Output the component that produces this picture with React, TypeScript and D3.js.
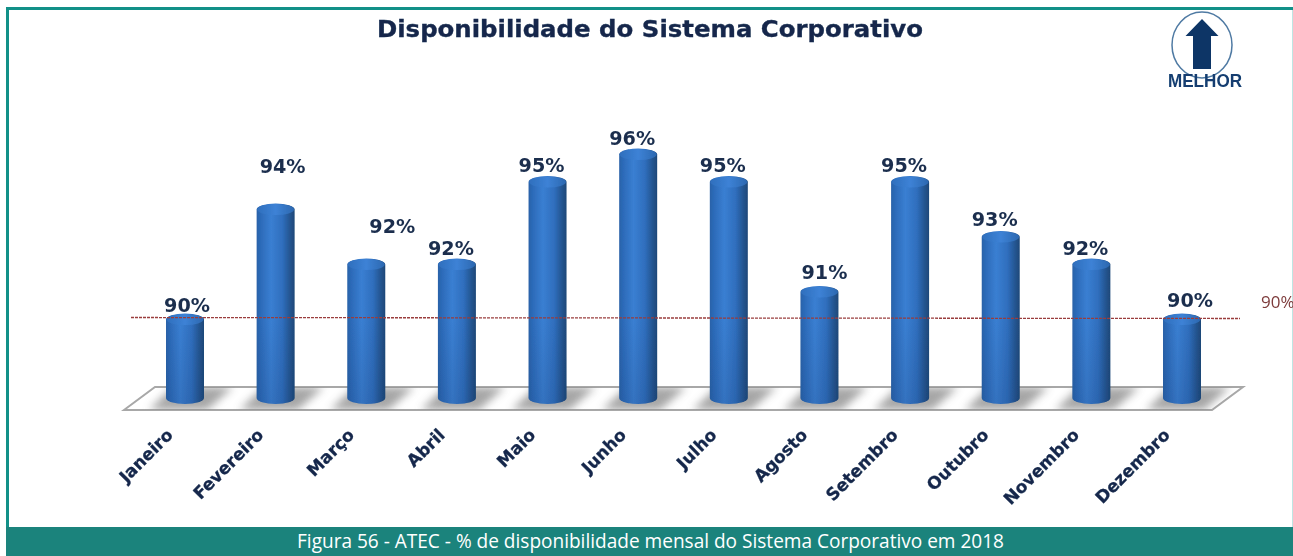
import React, { useEffect, useRef } from "react";
import * as d3 from "d3";

const categories = ["Janeiro","Fevereiro","Março","Abril","Maio","Junho","Julho","Agosto","Setembro","Outubro","Novembro","Dezembro"];
const values = [90,94,92,92,95,96,95,91,95,93,92,90];
const targetValue = 90;
const targetLabel = "90%";
const titleText = "Disponibilidade do Sistema Corporativo";
const captionText = "Figura 56 - ATEC - % de disponibilidade mensal do Sistema Corporativo em 2018";

const W = 1293, H = 556;
const NAVY = "#14284b", TEAL = "#1b837c";
// hand-placed value labels: offset from the top of each bar, in px
const labelDx = [2,7,26,-6,-6,-6,-6,5,-6,-6,-6,8];
const labelDy = [-8,-37,-32,-10,-10,-10,-10,-13,-10,-11,-10,-13];

export default function App() {
  const ref = useRef<SVGSVGElement | null>(null);
  useEffect(() => {
    const svg = d3.select(ref.current);
    svg.selectAll("*").remove();
    const defs = svg.append("defs");
    const g = defs.append("linearGradient").attr("id", "cyl");
    [[0,"#2a62a8"],[0.1,"#2c6ab8"],[0.38,"#3a7fd2"],[0.68,"#2f6ebd"],[0.88,"#245590"],[1,"#1e4878"]].forEach(([o,c]) =>
      g.append("stop").attr("offset", o as number).attr("stop-color", c as string));
    const fade = defs.append("linearGradient").attr("id","fade").attr("gradientUnits","userSpaceOnUse")
      .attr("x1",0).attr("x2",0).attr("y1",320).attr("y2",404);
    fade.append("stop").attr("offset",0).attr("stop-color","#143060").attr("stop-opacity",0);
    fade.append("stop").attr("offset",1).attr("stop-color","#143060").attr("stop-opacity",0.16);
    const cap = defs.append("linearGradient").attr("id", "cap");
    [[0,"#2f6fbd"],[0.5,"#3d82d6"],[1,"#2c68b0"]].forEach(([o,c]) =>
      cap.append("stop").attr("offset", o as number).attr("stop-color", c as string));
    defs.append("filter").attr("id","shadow").attr("x","-50%").attr("width","200%").attr("y","-80%").attr("height","260%")
      .append("feGaussianBlur").attr("stdDeviation", 4.5);
    defs.append("filter").attr("id","soft").attr("x","-5%").attr("width","110%").attr("y","-5%").attr("height","110%")
      .append("feGaussianBlur").attr("stdDeviation", 0.45);
    defs.append("clipPath").attr("id","floorClip").append("path").attr("d","M124 410L155 387L1243 387L1212 410Z");

    const x = d3.scalePoint<string>().domain(categories).range([185, 1182]);
    const y = d3.scaleLinear().domain([90, 96]).range([319.5, 154.5]);
    const baseY = 398;
    const rx = 19, ry = 6;

    svg.append("rect").attr("width", W).attr("height", H).attr("fill", "#fff");
    svg.append("path").attr("d", `M7.5 527V8.5H${W}`).attr("fill","none").attr("stroke","#129088").attr("stroke-width",3);
    svg.append("line").attr("x1",1292.5).attr("x2",1292.5).attr("y1",10).attr("y2",527).attr("stroke","#bfe5e3");

    const chart = svg.append("g").attr("filter","url(#soft)");

    chart.append("text").attr("x",377).attr("y",37)
      .attr("font-family","DejaVu Sans").attr("font-weight","bold").attr("font-size",23)
      .attr("textLength",546).attr("lengthAdjust","spacingAndGlyphs")
      .attr("stroke",NAVY).attr("stroke-width",0.35).attr("fill",NAVY).text(titleText);

    chart.append("path").attr("d","M124 410L155 387L1243 387L1212 410Z").attr("fill","#fff").attr("stroke","#a8a8a8").attr("stroke-width",2);
    const floor = chart.append("g").attr("clip-path","url(#floorClip)");
    floor.selectAll("path.s").data(categories).join("path")
      .attr("d", d => { const c = x(d)!; return `M${c-36} 410L${c-12} 387L${c+48} 387L${c+22} 410Z`; })
      .attr("fill","#888").attr("opacity",0.75).attr("filter","url(#shadow)");

    const bars = chart.append("g");
    categories.forEach((c, i) => {
      const cx = x(c)!, top = y(values[i]);
      const d = `M${cx-rx} ${top}V${baseY}A${rx} ${ry} 0 0 0 ${cx+rx} ${baseY}V${top}A${rx} ${ry} 0 0 0 ${cx-rx} ${top}Z`;
      bars.append("path").attr("d", d).attr("fill","url(#cyl)");
      bars.append("path").attr("d", d).attr("fill","url(#fade)");
      bars.append("ellipse").attr("cx",cx).attr("cy",top).attr("rx",rx-0.5).attr("ry",ry-0.5).attr("fill","url(#cap)");
      chart.append("text").attr("x",cx+labelDx[i]).attr("y",top+labelDy[i]).attr("text-anchor","middle")
        .attr("font-family","DejaVu Sans").attr("font-weight","bold").attr("font-size",19.2).attr("fill","#1a2e4e").text(values[i]+"%");
      chart.append("text").attr("transform",`translate(${cx-11},${436}) rotate(-45)`).attr("text-anchor","end")
        .attr("font-family","DejaVu Sans").attr("font-weight","bold").attr("font-size",17)
        .attr("stroke",NAVY).attr("stroke-width",0.3).attr("fill",NAVY).text(c);
    });

    const ty = y(targetValue) - 2;
    chart.append("line").attr("x1",131).attr("x2",1240).attr("y1",ty).attr("y2",ty+1)
      .attr("stroke","#9a3d3d").attr("stroke-width",1.3).attr("stroke-dasharray","3 1");
    chart.append("text").attr("x",1261).attr("y",308).attr("font-family","Open Sans").attr("font-size",17).attr("fill","#7d3b3b").text(targetLabel);

    const logo = chart.append("g");
    logo.append("ellipse").attr("cx",1202).attr("cy",45).attr("rx",30).attr("ry",33).attr("fill","none").attr("stroke","#4f7aa3").attr("stroke-width",1.5);
    logo.append("path").attr("d","M1202 19L1218.500 36H1211V69H1193V36H1185.500Z").attr("fill","#0f3566");
    logo.append("text").attr("x",1168).attr("y",87).attr("font-family","Liberation Sans").attr("font-weight","bold")
      .attr("font-size",19).attr("textLength",74).attr("lengthAdjust","spacingAndGlyphs").attr("fill","#123d70").text("MELHOR");

    svg.append("rect").attr("x",6).attr("y",527).attr("width",W-6).attr("height",29).attr("fill",TEAL);
    svg.append("text").attr("x",297).attr("y",548).attr("font-family","Open Sans").attr("font-size",20)
      .attr("textLength",707).attr("lengthAdjust","spacingAndGlyphs").attr("fill","#fff").text(captionText);
  }, []);
  return <svg ref={ref} width={W} height={H} style={{ position: "fixed", left: 0, top: 0, display: "block" }} />;
}
